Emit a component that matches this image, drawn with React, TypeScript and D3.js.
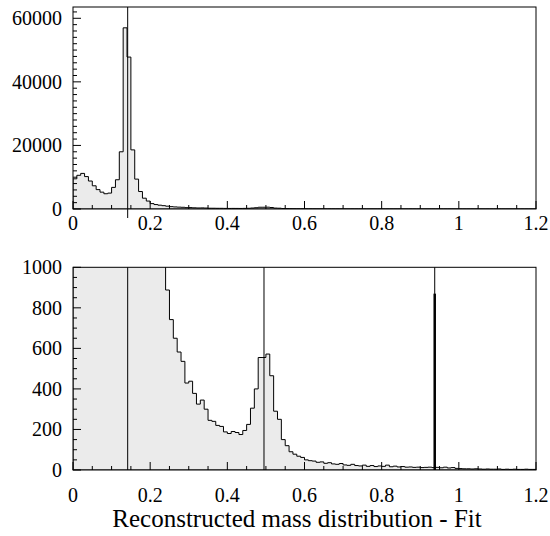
import React from 'react';
import * as d3 from 'd3';

const W = 550;
const H = 536;
const FONT = "'Liberation Serif', 'DejaVu Serif', 'Times New Roman', serif";

// histogram: 120 bins of 0.01 GeV from 0 to 1.2
const BIN_WIDTH = 0.01;
const counts = [
  9500, 10600, 11200, 10200, 8800, 7300, 6100, 5300, 4800, 5000,
  6800, 9200, 18000, 57000, 47800, 18600, 9400, 5500, 3400, 2500,
  1700, 1400, 1200, 1050, 888, 742, 650, 582, 536, 429,
  438, 378, 325, 345, 300, 245, 240, 220, 215, 188,
  180, 190, 185, 175, 195, 225, 305, 400, 555, 555,
  572, 465, 290, 250, 150, 120, 90, 78, 68, 62,
  50, 46, 44, 38, 40, 33, 36, 30, 28, 32,
  25, 23, 28, 22, 20, 24, 18, 22, 17, 20,
  18, 24, 16, 19, 15, 17, 14, 15, 13, 14,
  12, 13, 14, 12, 13, 11, 14, 10, 12, 8,
  7, 6, 6, 5, 6, 5, 4, 5, 4, 4,
  5, 3, 4, 3, 4, 3, 3, 4, 3, 3,
];

// fit markers (mass positions)
const markers = [0.1417, 0.495, 0.9375];
const spike = { mass: 0.9375, value: 870 };

const xTicks = [0, 0.2, 0.4, 0.6, 0.8, 1, 1.2];
const xMinor = d3.range(0, 1.2001, 0.05);
const topYTicks = [0, 20000, 40000, 60000];
const topYMinor = d3.range(0, 63001, 2000);
const botYTicks = [0, 200, 400, 600, 800, 1000];
const botYMinor = d3.range(0, 1001, 50);

const xScale = d3.scaleLinear().domain([0, 1.2]).range([73, 536]);
const yTop = d3.scaleLinear().domain([0, 63550]).range([209, 7]);
const yBot = d3.scaleLinear().domain([0, 1000]).range([470, 267.3]);

function histPath(y: d3.ScaleLinear<number, number>) {
  let d = `M${xScale(0)},${y(0)}`;
  counts.forEach((c, i) => {
    const lo = i * BIN_WIDTH;
    const hi = lo + BIN_WIDTH;
    d += `L${xScale(lo)},${y(c)}L${xScale(hi)},${y(c)}`;
  });
  d += `L${xScale(counts.length * BIN_WIDTH)},${y(0)}Z`;
  return d;
}

const textStyle = { fontFamily: FONT };

function Panel({ y, id, yTicks, yMinor, labelY, lines, lineExtra, showSpike }: any) {
  const [y0, y1] = y.range();
  const [x0, x1] = xScale.range();
  return (
    <g>
      <defs>
        <clipPath id={id}>
          <rect x={x0} y={y1} width={x1 - x0} height={y0 - y1} />
        </clipPath>
      </defs>
      <g clipPath={`url(#${id})`}>
        <path d={histPath(y)} fill="#ebebeb" stroke="#000" strokeWidth={1} />
      </g>
      {lines.map((m: number) => (
        <line key={m} x1={xScale(m)} x2={xScale(m)} y1={y1} y2={y0 + lineExtra} stroke="#000" strokeWidth={1} />
      ))}
      {showSpike && (
        <line x1={xScale(spike.mass)} x2={xScale(spike.mass)} y1={y(spike.value)} y2={y0} stroke="#000" strokeWidth={2.5} />
      )}
      <rect x={x0} y={y1} width={x1 - x0} height={y0 - y1} fill="none" stroke="#000" strokeWidth={1} />
      {xMinor.map((t) => {
        const major = xTicks.some((m) => Math.abs(m - t) < 1e-6);
        return <line key={'xm' + t} x1={xScale(t)} x2={xScale(t)} y1={y0} y2={y0 - (major ? 8 : 4)} stroke="#000" />;
      })}
      {yMinor.map((t: number) => {
        const major = yTicks.includes(t);
        return <line key={'ym' + t} x1={x0} x2={x0 + (major ? 8 : 4)} y1={y(t)} y2={y(t)} stroke="#000" />;
      })}
      {yTicks.map((t: number) => (
        <text key={'yl' + t} x={x0 - 11} y={y(t)} dy="0.35em" textAnchor="end" style={textStyle} fontSize={20}>
          {String(t)}
        </text>
      ))}
      {xTicks.map((t) => (
        <text key={'xl' + t} x={xScale(t)} y={labelY} textAnchor="middle" style={textStyle} fontSize={20}>
          {String(t)}
        </text>
      ))}
    </g>
  );
}

export default function App() {
  return (
    <svg width={W} height={H} style={{ position: 'absolute', left: 0, top: 0, background: '#fff' }}>
      <rect width={W} height={H} fill="#fff" />
      <Panel y={yTop} id="clipTop" yTicks={topYTicks} yMinor={topYMinor}
        labelY={230} lines={[markers[0]]} lineExtra={9} showSpike={false} />
      <Panel y={yBot} id="clipBot" yTicks={botYTicks} yMinor={botYMinor}
        labelY={502} lines={markers} lineExtra={0} showSpike={true} />
      <text x={297} y={527} textAnchor="middle" style={textStyle} fontSize={25}>
        Reconstructed mass distribution - Fit
      </text>
    </svg>
  );
}
